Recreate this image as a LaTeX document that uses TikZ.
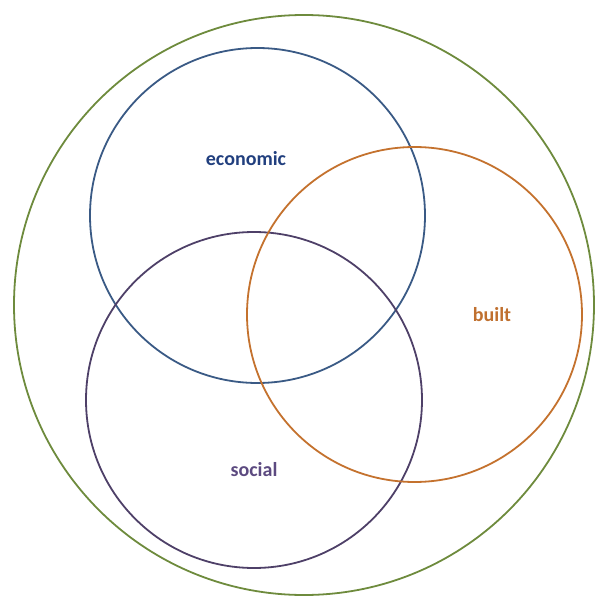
\documentclass[tikz,border=0pt]{standalone}
\usepackage{fontspec}
\setmainfont{Carlito}
\definecolor{envgreen}{HTML}{6E8B3D}
\definecolor{econblue}{HTML}{3A5A85}
\definecolor{econtext}{HTML}{213F7E}
\definecolor{socpurple}{HTML}{4E4068}
\definecolor{soctext}{HTML}{5C4A80}
\definecolor{builtorange}{HTML}{C4722E}
\definecolor{builttext}{HTML}{C0702F}
\begin{document}
\begin{tikzpicture}[x=1pt,y=-1pt,
  ring/.style={circle,draw=#1,line width=1.8pt,inner sep=0pt},
  tag/.style={font=\fontsize{20}{24}\selectfont\bfseries,text=#1,inner sep=0pt}]
\useasboundingbox (0,0) rectangle (598,597);
% environment boundary
\node[ring=envgreen,minimum size=580pt] (env) at (304,305) {};
% the three overlapping capitals
\node[ring=econblue,minimum size=335pt] (econ) at (257.5,215.5) {};
\node[ring=socpurple,minimum size=336pt] (soc) at (254,400) {};
\node[ring=builtorange,minimum size=335pt] (built) at (414.5,314.5) {};
% labels
\node[tag=econtext] (econlbl) at (246,159) {economic};
\node[tag=builttext] (builtlbl) at (492,315) {built};
\node[tag=soctext] (soclbl) at (254,470) {social};
\end{tikzpicture}
\end{document}
